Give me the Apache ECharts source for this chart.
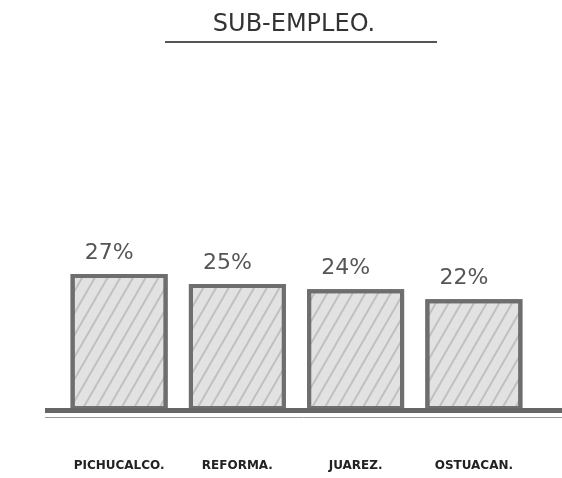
<!DOCTYPE html>
<html>
<head>
<meta charset="utf-8">
<script src="https://cdn.jsdelivr.net/npm/echarts@6/dist/echarts.min.js"></script>
<style>
  html, body { margin: 0; padding: 0; background: #fff; }
  #chart { width: 562px; height: 478px; }
</style>
</head>
<body>
<div id="chart"></div>
<script>
const categories = ['PICHUCALCO.', 'REFORMA.', 'JUAREZ.', 'OSTUACAN.'];
const subEmpleo = [27, 25, 24, 22];

const chart = echarts.init(document.getElementById('chart'));

chart.setOption({
  backgroundColor: '#fff',
  animation: false,
  title: {
    text: 'SUB-EMPLEO.',
    left: 289,
    top: 8,
    textAlign: 'center',
    textStyle: {
      fontFamily: 'DejaVu Sans',
      fontSize: 24,
      fontWeight: 'normal',
      color: '#333'
    }
  },
  grid: {
    left: 60,
    right: 29,
    top: 60,
    bottom: 68
  },
  xAxis: {
    type: 'category',
    data: categories,
    axisLine: { show: false },
    axisTick: { show: false },
    axisLabel: {
      margin: 50,
      fontFamily: 'DejaVu Sans',
      fontSize: 12,
      fontWeight: 'bold',
      color: '#222'
    }
  },
  yAxis: {
    type: 'value',
    min: 0,
    max: 69.5,
    show: false
  },
  series: [
    {
      type: 'bar',
      barWidth: '82%',
      data: subEmpleo,
      itemStyle: {
        color: '#e2e2e2',
        borderColor: '#6e6e6e',
        borderWidth: 4,
        decal: {
          symbol: 'rect',
          symbolSize: 1,
          dashArrayX: [1, 0],
          dashArrayY: [2, 9],
          rotation: -Math.PI / 3,
          color: 'rgba(90,90,90,0.25)'
        }
      },
      label: {
        show: true,
        position: 'top',
        distance: 10,
        offset: [-10, 0],
        formatter: '{c}%',
        fontFamily: 'DejaVu Sans',
        fontSize: 22,
        fontWeight: 'normal',
        color: '#555'
      }
    }
  ],
  graphic: [
    {
      type: 'line',
      shape: { x1: 165, y1: 42, x2: 437, y2: 42 },
      style: { stroke: '#555', lineWidth: 2 }
    },
    {
      type: 'rect',
      z: 100,
      shape: { x: 45, y: 408, width: 517, height: 5 },
      style: { fill: '#666' }
    },
    {
      type: 'line',
      z: 100,
      shape: { x1: 45, y1: 417.5, x2: 562, y2: 417.5 },
      style: { stroke: '#999', lineWidth: 1 }
    }
  ]
});
</script>
</body>
</html>
